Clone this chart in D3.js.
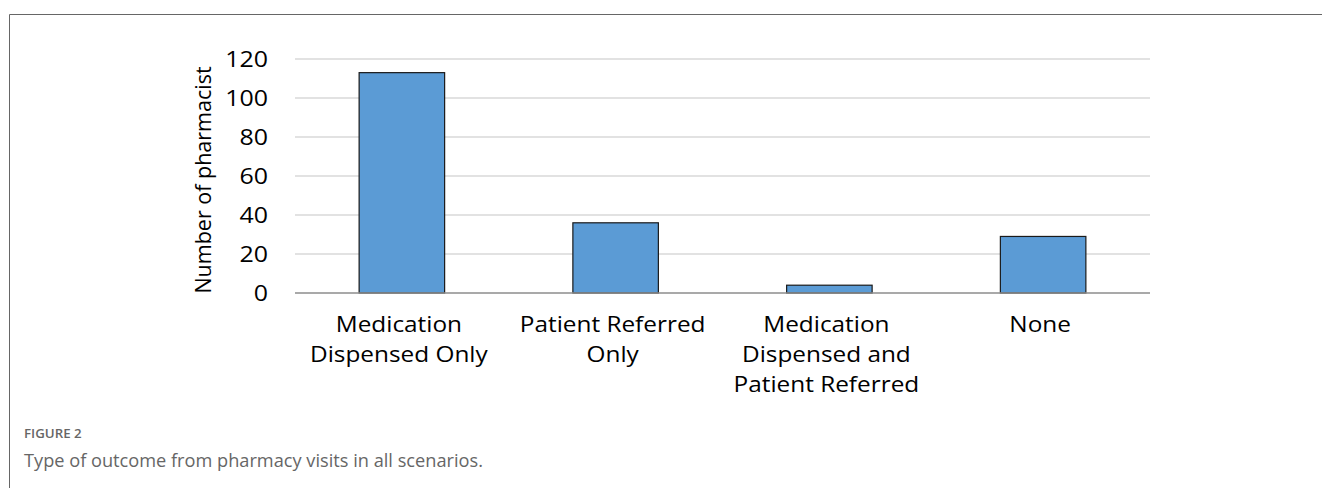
<!DOCTYPE html>
<html><head><meta charset="utf-8">
<script src="https://cdn.jsdelivr.net/npm/d3@7"></script>
<style>body{margin:0;background:#fff}svg{display:block}</style>
</head><body><svg id="c" width="1322" height="488"></svg>
<script>
const categories = [
  ["Medication", "Dispensed Only"],
  ["Patient Referred", "Only"],
  ["Medication", "Dispensed and", "Patient Referred"],
  ["None"]
];
const values = [113, 36, 4, 29];
const yTicks = [0, 20, 40, 60, 80, 100, 120];
const yTitle = "Number of pharmacist";
const figLabel = "FIGURE 2";
const caption = "Type of outcome from pharmacy visits in all scenarios.";

(function () {
const svg = d3.select("#c");
const font = "'Open Sans', sans-serif";
const sx = 1.16;
// frame
svg.append("line").attr("x1", 9.5).attr("x2", 1322).attr("y1", 14.5).attr("y2", 14.5).attr("stroke", "#666").attr("stroke-width", 1);
svg.append("line").attr("x1", 9.5).attr("x2", 9.5).attr("y1", 14.5).attr("y2", 488).attr("stroke", "#666").attr("stroke-width", 1);

const pLeft = 295, pRight = 1150, pTop = 59, pBottom = 293;
const x = d3.scaleBand().domain(d3.range(categories.length)).range([pLeft, pRight]).paddingInner(0.6).paddingOuter(0.3);
const y = d3.scaleLinear().domain([0, 120]).range([pBottom, pTop]);

const g = svg.append("g");
// grid
g.selectAll("line.grid").data(yTicks.filter(d => d > 0)).join("line")
  .attr("x1", pLeft).attr("x2", pRight)
  .attr("y1", d => y(d)).attr("y2", d => y(d))
  .attr("stroke", "#d9d9d9").attr("stroke-width", 1.3);
// bars
g.selectAll("rect").data(values).join("rect")
  .attr("x", (d, i) => x(i)).attr("width", x.bandwidth())
  .attr("y", d => y(d)).attr("height", d => y(0) - y(d))
  .attr("fill", "#5b9bd5").attr("stroke", "#1a1a1a").attr("stroke-width", 1.2);
// baseline
g.append("line").attr("x1", pLeft).attr("x2", pRight).attr("y1", y(0)).attr("y2", y(0))
  .attr("stroke", "#8c8c8c").attr("stroke-width", 1.6);
// y tick labels
g.selectAll("text.yt").data(yTicks).join("text")
  .attr("transform", d => `translate(268,${y(d)}) scale(${sx},1)`)
  .attr("dy", "0.36em")
  .attr("text-anchor", "end").attr("font-family", font).attr("font-size", 21.5).attr("font-weight", 500).attr("fill", "#000")
  .text(d => d);
// y title
svg.append("text").attr("transform", `translate(211,180) rotate(-90)`)
  .attr("text-anchor", "middle").attr("font-family", font).attr("font-size", 21.5).attr("font-weight", 500).attr("fill", "#000")
  .text(yTitle);
// category labels
categories.forEach((lines, i) => {
  const cx = x(i) + x.bandwidth() / 2;
  lines.forEach((l, j) => {
    svg.append("text").attr("transform", `translate(${cx - 3},${332 + j * 30}) scale(${sx},1)`)
      .attr("text-anchor", "middle").attr("font-family", font).attr("font-size", 21).attr("font-weight", 500).attr("fill", "#000")
      .text(l);
  });
});
// caption
svg.append("text").attr("x", 24).attr("y", 438).attr("font-family", font).attr("font-size", 13.3).attr("font-weight", 600).attr("fill", "#666").text(figLabel);
svg.append("text").attr("x", 24).attr("y", 467).attr("font-family", font).attr("font-size", 18.2).attr("fill", "#666").text(caption);
})();
</script></body></html>
